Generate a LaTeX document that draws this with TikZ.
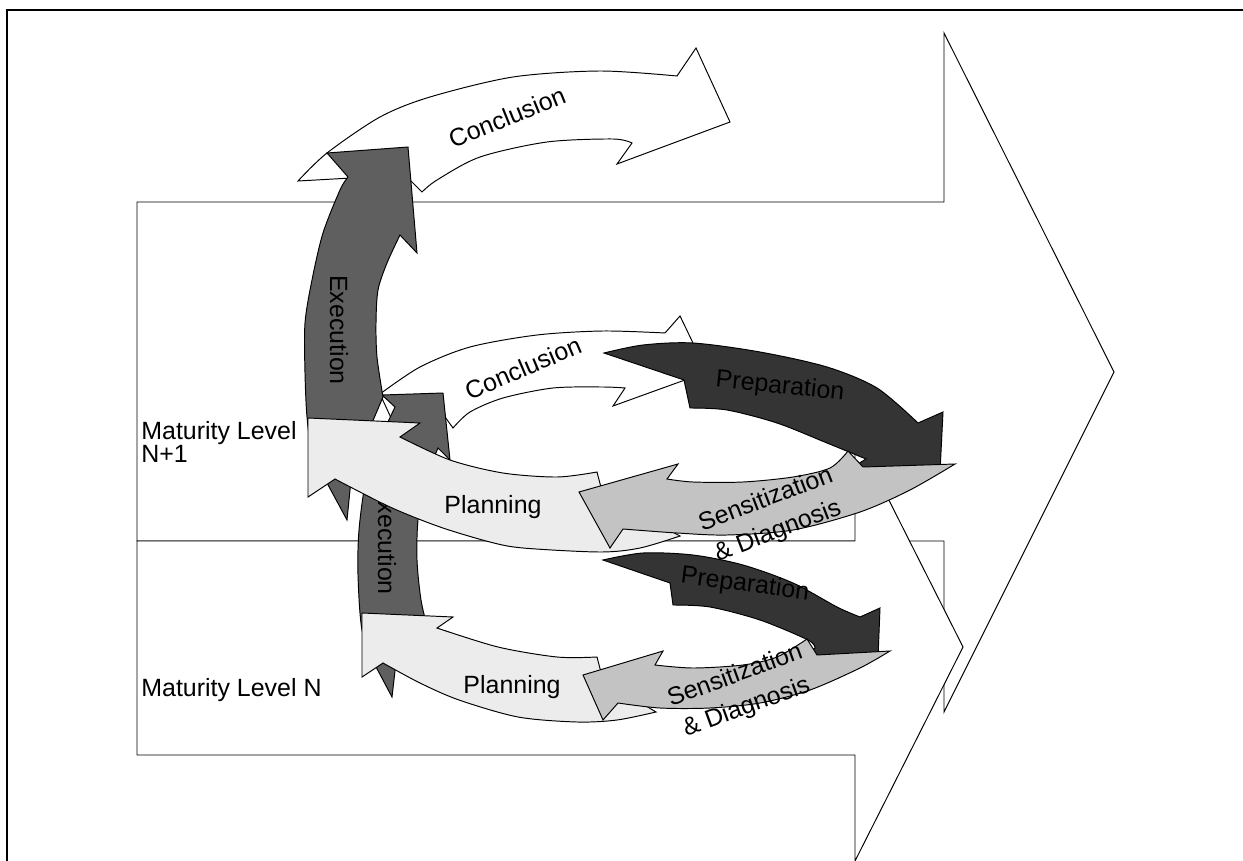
\documentclass[tikz,border=0pt]{standalone}
\usepackage{fontspec}
\setmainfont{Liberation Sans}

\definecolor{execgray}{RGB}{95,95,95}
\definecolor{prepgray}{RGB}{52,52,52}
\definecolor{plangray}{RGB}{236,236,236}
\definecolor{sensgray}{RGB}{195,195,195}

\begin{document}
\begin{tikzpicture}[x=0.02cm,y=-0.02cm,
  band/.style={draw=black,line width=0.55pt,line join=miter},
  txt/.style={inner sep=0pt,font=\fontsize{14.2}{19}\selectfont}]
\useasboundingbox (0,0) rectangle (1243,861);
\clip (0,0) rectangle (1243,861);
\draw[line width=1.1pt] (7,10) rectangle (1300,920);

\filldraw[band,fill=white] (137,202) -- (944,202) -- (944,33) -- (1114,372) -- (944,712) -- (944,541) -- (137,541) -- cycle;
\filldraw[band,fill=white] (137,541) -- (855,541) -- (855,433) -- (963,647) -- (855,861) -- (855,755) -- (137,755) -- cycle;
\node[txt,anchor=west,align=left,font=\fontsize{14.2}{13.5}\selectfont] (lvlhigh) at (141,442) {Maturity Level\\N+1};
\node[txt,anchor=west] (lvllow) at (141,690) {Maturity Level N};

\filldraw[band,fill=white] (392,420) -- plot[smooth] coordinates {(380,394) (420,367) (470,347) (537,335) (603,331) (665,333)} -- (680,316) -- (707,372) -- (613,406) -- plot[smooth] coordinates {(625,388) (603,387) (553,388) (503,398) (470,412) (453,428)} -- (440,410) -- cycle;
\filldraw[band,fill=execgray] (382,395) -- (443,393) -- (450,460) -- plot[smooth] coordinates {(438,448) (425,482) (418,520) (417,560) (421,600) (428,630) (432,645)} -- (398,645) -- (392,697) -- plot[smooth] coordinates {(375,665) (362,630) (358,575) (359,530) (366,480) (380,440) (395,407)} -- cycle;
\filldraw[band,fill=plangray] (453,617) -- (362,613) -- (362,677) -- plot[smooth] coordinates {(383,663) (420,683) (459,700) (518,717) (577,722) (617,720) (656,712)} -- (603,680) -- plot[smooth] coordinates {(597,657) (557,657) (498,647) (437,628)} -- cycle;
\filldraw[band,fill=prepgray] plot[smooth] coordinates {(603,560) (643,553) (693,555) (743,565) (793,583) (837,607) (860,617)} -- (880,608) -- (878,658) -- (798,660) -- plot[smooth] coordinates {(815,648) (808,640) (760,620) (710,607) (673,605)} -- (670,583) -- cycle;
\filldraw[band,fill=sensgray] (583,675) -- (663,651) -- plot[smooth] coordinates {(655,665) (693,668) (743,665) (777,657) (807,639)} -- (817,655) -- (890,651) -- plot[smooth] coordinates {(890,651) (860,668) (810,690) (760,703) (710,708) (660,708) (618,703)} -- (603,720) -- cycle;
\node[txt,rotate=23] (conclmid) at (523,368) {Conclusion};
\node[txt,rotate=-90] (execlow) at (387,540) {Execution};
\node[txt] (planlow) at (512,687) {Planning};
\node[txt,rotate=-7.5] (preplow) at (745,585) {Preparation};
\node[txt,rotate=20,align=center] (senslow) at (741,692) {Sensitization\\\& Diagnosis};

\filldraw[band,fill=white] plot[smooth] coordinates {(298,181) (327,153) (380,117) (430,97) (513,77) (600,71) (677,76)} -- (696,48) -- (730,122) -- (617,164) -- plot[smooth] coordinates {(632,143) (613,139) (547,142) (480,157) (437,180) (422,192)} -- (405,175) -- cycle;
\filldraw[band,fill=execgray] (327,153) -- (408,147) -- (417,253) -- plot[smooth] coordinates {(400,235) (387,263) (378,290) (376,323) (377,357) (383,397)} -- (352,470) -- (347,520) -- plot[smooth] coordinates {(327,483) (312,450) (307,417) (305,373) (305,323) (312,280) (323,233) (340,190) (348,177)} -- cycle;
\filldraw[band,fill=plangray] (420,423) -- (308,418) -- (308,497) -- plot[smooth] coordinates {(335,479) (390,507) (440,527) (490,542) (523,548) (600,552) (640,548) (680,536)} -- (603,495) -- plot[smooth] coordinates {(597,472) (557,477) (503,473) (450,460) (400,437)} -- cycle;
\filldraw[band,fill=prepgray] plot[smooth] coordinates {(604,353) (643,345) (693,343) (760,352) (827,367) (877,388) (918,423)} -- (943,412) -- (940,472) -- (845,472) -- plot[smooth] coordinates {(866,459) (827,443) (777,423) (727,410) (690,408)} -- (684,380) -- cycle;
\filldraw[band,fill=sensgray] (579,492) -- (678,464) -- plot[smooth] coordinates {(667,479) (693,482) (743,482) (793,477) (830,468) (848,451)} -- (863,467) -- (955,464) -- plot[smooth] coordinates {(955,464) (910,490) (860,512) (793,530) (727,535) (677,533) (623,529)} -- (610,548) -- cycle;
\node[txt,rotate=22] (concltop) at (507,117) {Conclusion};
\node[txt,rotate=-90] (exectop) at (339,330) {Execution};
\node[txt] (plantop) at (493,507) {Planning};
\node[txt,rotate=-6] (preptop) at (780,387) {Preparation};
\node[txt,rotate=21,align=center] (senstop) at (772,516) {Sensitization\\\& Diagnosis};
\end{tikzpicture}
\end{document}
